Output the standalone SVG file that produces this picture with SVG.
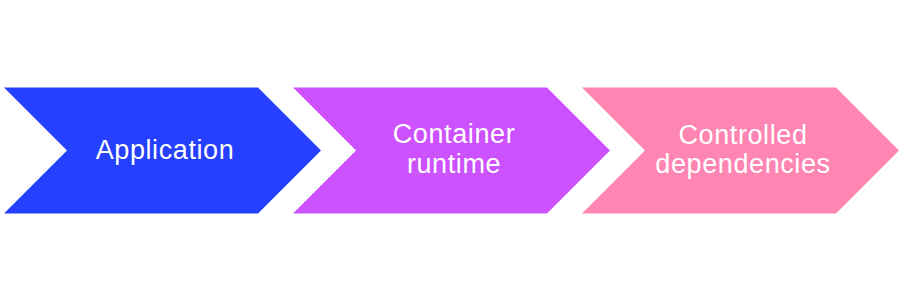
<svg xmlns="http://www.w3.org/2000/svg" width="900" height="302" viewBox="0 0 900 302">
<style>
.lbl{font-family:"Liberation Sans",Arial,sans-serif;font-size:27px;fill:#ffffff;text-anchor:middle;letter-spacing:0.6px}
</style>
<defs>
<path id="chev" d="M0,0 L254,0 L317,63 L254,126 L0,126 L63,63 Z"/>
</defs>
<rect width="900" height="302" fill="#ffffff"/>
<g id="connectors"></g>
<g id="node-application">
<use href="#chev" x="4" y="87.5" fill="#2540FF"/>
<text class="lbl" x="165" y="159">Application</text>
</g>
<g id="node-container-runtime">
<use href="#chev" x="293" y="87.5" fill="#CD52FF"/>
<text class="lbl" x="454" y="143">Container</text>
<text class="lbl" x="454" y="173">runtime</text>
</g>
<g id="node-controlled-dependencies">
<use href="#chev" x="582" y="87.5" fill="#FF85B2"/>
<text class="lbl" x="743" y="144">Controlled</text>
<text class="lbl" x="743" y="173">dependencies</text>
</g>
</svg>
